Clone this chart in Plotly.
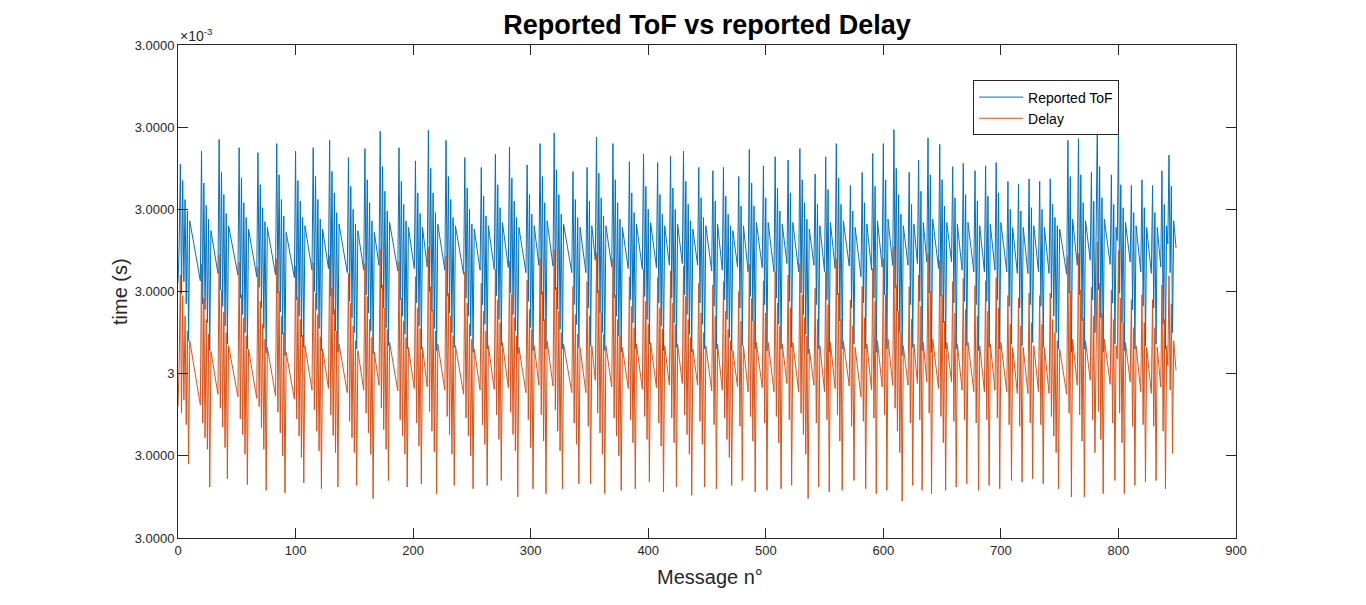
import plotly.graph_objects as go

# y values are offsets from 3e-3 s, expressed in y-tick steps (tick "3" = 0)
tof = [
 1.10, 1.55,
 2.55, 0.97, 2.35, 1.12, 2.12, 0.85, 1.98, 0.40, 1.86, 1.78, 1.70, 1.62, 1.55, 1.46, 1.38, 1.30, 1.21, 1.13,
 2.71, 0.85, 2.32, 0.78, 2.05, 0.62, 1.88, 0.28, 1.74, 1.65, 1.57, 1.48, 1.40, 1.31, 1.22,
 2.85, 1.02, 2.45, 0.82, 2.18, 0.58, 1.95, 0.36, 1.80, 1.73, 1.66, 1.58, 1.50, 1.43, 1.35, 1.28, 1.20,
 2.75, 0.92, 2.38, 0.72, 2.08, 0.50, 1.90, 0.30, 1.76, 1.68, 1.60, 1.51, 1.43, 1.35, 1.26, 1.18,
 2.69, 1.05, 2.30, 0.80, 2.02, 0.55, 1.85, 0.25, 1.78, 1.70, 1.61, 1.53, 1.45, 1.37, 1.29, 1.20,
 2.80, 0.98, 2.42, 0.75, 2.12, 0.48, 1.92, 0.22, 1.72, 1.64, 1.57, 1.49, 1.41, 1.33, 1.25, 1.17,
 2.71, 0.90, 2.35, 0.70, 2.10, 0.45, 1.90, 0.32, 1.80, 1.71, 1.62, 1.53, 1.44, 1.35, 1.26,
 2.75, 1.00, 2.40, 0.78, 2.12, 0.55, 1.88, 0.28, 1.76, 1.66, 1.57, 1.47, 1.38, 1.28,
 2.84, 0.94, 2.46, 0.72, 2.20, 0.52, 1.96, 0.26, 1.82, 1.74, 1.66, 1.57, 1.49, 1.40, 1.32, 1.23,
 2.63, 0.88, 2.28, 0.68, 2.00, 0.50, 1.82, 0.30, 1.74, 1.64, 1.55, 1.45, 1.36, 1.26,
 2.74, 0.96, 2.36, 0.74, 2.08, 0.52, 1.86, 0.24, 1.72, 1.62, 1.52, 1.42, 1.32,
 2.95, 1.04, 2.52, 0.80, 2.22, 0.56, 1.98, 0.34, 1.84, 1.76, 1.67, 1.59, 1.50, 1.42, 1.33, 1.25,
 2.75, 0.90, 2.34, 0.70, 2.06, 0.48, 1.86, 0.30, 1.78, 1.68, 1.58, 1.48, 1.38, 1.28,
 2.59, 0.86, 2.20, 0.58, 1.95, 0.30, 1.78, 1.66, 1.54, 1.42, 1.30,
 2.96, 1.00, 2.50, 0.76, 2.20, 0.55, 1.96, 0.28, 1.82, 1.72, 1.63, 1.54, 1.44, 1.35, 1.26,
 2.84, 0.94, 2.40, 0.74, 2.12, 0.50, 1.90, 0.32, 1.80, 1.72, 1.63, 1.55, 1.46, 1.38, 1.29, 1.21,
 2.63, 0.92, 2.26, 0.70, 2.00, 0.46, 1.82, 0.26, 1.76, 1.66, 1.56, 1.46, 1.36, 1.26,
 2.51, 0.84, 2.16, 0.60, 1.92, 0.30, 1.80, 1.70, 1.59, 1.48, 1.38, 1.27,
 2.67, 0.95, 2.30, 0.66, 2.02, 0.34, 1.84, 1.73, 1.62, 1.51, 1.40, 1.29,
 2.76, 0.98, 2.38, 0.72, 2.10, 0.52, 1.90, 0.24, 1.78, 1.69, 1.60, 1.50, 1.41, 1.32, 1.23,
 2.54, 0.88, 2.18, 0.56, 1.94, 0.28, 1.80, 1.68, 1.56, 1.44, 1.32,
 2.80, 0.96, 2.40, 0.64, 2.08, 0.30, 1.86, 1.75, 1.64, 1.53, 1.42, 1.31,
 2.93, 1.02, 2.48, 0.78, 2.18, 0.54, 1.94, 0.30, 1.82, 1.74, 1.65, 1.57, 1.48, 1.40, 1.31, 1.23,
 2.46, 0.84, 2.12, 0.60, 1.90, 0.32, 1.78, 1.67, 1.56, 1.45, 1.34, 1.23,
 2.51, 0.80, 2.10, 0.34, 1.80, 1.66, 1.52, 1.38,
 2.88, 0.98, 2.44, 0.74, 2.14, 0.50, 1.92, 0.28, 1.80, 1.70, 1.60, 1.50, 1.40, 1.30,
 2.80, 0.92, 2.36, 0.70, 2.08, 0.46, 1.88, 0.26, 1.78, 1.68, 1.58, 1.48, 1.38, 1.28,
 2.58, 0.90, 2.20, 0.62, 1.96, 0.30, 1.82, 1.71, 1.60, 1.49, 1.38, 1.27,
 2.67, 0.94, 2.28, 0.66, 2.00, 0.36, 1.84, 1.73, 1.62, 1.51, 1.40, 1.29,
 2.57, 0.86, 2.18, 0.58, 1.94, 0.28, 1.80, 1.68, 1.56, 1.44, 1.32,
 2.65, 0.92, 2.26, 0.62, 2.00, 0.32, 1.82, 1.70, 1.58, 1.46, 1.34,
 2.71, 0.96, 2.34, 0.72, 2.06, 0.48, 1.86, 0.26, 1.76, 1.65, 1.54, 1.43, 1.32,
 2.51, 0.86, 2.14, 0.60, 1.90, 0.30, 1.80, 1.69, 1.58, 1.47, 1.36, 1.25,
 2.47, 0.82, 2.10, 0.30, 1.82, 1.68, 1.54, 1.40, 1.26,
 2.51, 0.90, 2.16, 0.66, 1.94, 0.44, 1.80, 0.28, 1.74, 1.63, 1.52, 1.41, 1.30,
 2.40, 0.80, 2.04, 0.34, 1.80, 1.66, 1.52, 1.38, 1.24,
 2.73, 0.94, 2.32, 0.64, 2.04, 0.30, 1.84, 1.73, 1.62, 1.51, 1.40, 1.29,
 2.53, 0.84, 2.14, 0.28, 1.84, 1.72, 1.60, 1.48, 1.36, 1.24,
 2.64, 0.92, 2.26, 0.60, 1.98, 0.30, 1.82, 1.70, 1.58, 1.46, 1.34,
 2.60, 0.88, 2.20, 0.32, 1.84, 1.72, 1.60, 1.48, 1.36, 1.24,
 2.74, 0.98, 2.36, 0.72, 2.08, 0.48, 1.88, 0.24, 1.76, 1.65, 1.54, 1.43, 1.32,
 2.43, 0.84, 2.06, 0.30, 1.80, 1.66, 1.52, 1.38, 1.24,
 2.64, 0.90, 2.24, 0.26, 1.84, 1.70, 1.56, 1.42, 1.28,
 2.80, 0.96, 2.38, 0.64, 2.06, 0.30, 1.86, 1.75, 1.64, 1.53, 1.42, 1.31,
 2.29, 0.80, 1.98, 0.36, 1.78, 1.66, 1.54, 1.42, 1.30, 1.18,
 2.45, 0.86, 2.08, 0.30, 1.82, 1.68, 1.54, 1.40, 1.26,
 2.68, 0.92, 2.28, 0.26, 1.86, 1.72, 1.58, 1.44, 1.30,
 2.80, 0.96, 2.36, 0.30, 1.88, 1.74, 1.60, 1.46, 1.32,
 2.97, 1.04, 2.50, 0.76, 2.18, 0.50, 1.94, 0.22, 1.80, 1.68, 1.56, 1.44, 1.32,
 2.45, 0.84, 2.06, 0.32, 1.82, 1.66, 1.50, 1.34,
 2.60, 0.88, 2.22, 0.28, 1.84, 1.68, 1.52, 1.36,
 2.87, 0.98, 2.42, 0.26, 1.88, 1.76, 1.64, 1.52, 1.40, 1.28,
 2.79, 0.94, 2.36, 0.62, 2.04, 0.30, 1.84, 1.72, 1.60, 1.48, 1.36,
 2.52, 0.86, 2.14, 0.30, 1.82, 1.68, 1.54, 1.40, 1.26,
 2.56, 0.88, 2.18, 0.34, 1.84, 1.72, 1.60, 1.48, 1.36, 1.24,
 2.47, 0.84, 2.10, 0.28, 1.80, 1.66, 1.52, 1.38, 1.24,
 2.53, 0.88, 2.16, 0.32, 1.82, 1.68, 1.54, 1.40, 1.26,
 2.57, 0.90, 2.20, 0.30, 1.84, 1.72, 1.60, 1.48, 1.36, 1.24,
 2.34, 0.82, 2.00, 0.36, 1.78, 1.64, 1.50, 1.36, 1.22,
 2.31, 0.80, 1.98, 0.34, 1.78, 1.64, 1.50, 1.36, 1.22,
 2.37, 0.84, 2.02, 0.38, 1.80, 1.66, 1.52, 1.38, 1.24,
 2.34, 0.82, 2.00, 0.32, 1.78, 1.64, 1.50, 1.36, 1.22,
 2.37, 0.92, 2.06, 0.70, 1.90, 0.50, 1.80, 0.30, 1.76, 1.67, 1.58, 1.48, 1.39, 1.30, 1.21,
 2.84, 0.98, 2.40, 0.26, 1.88, 1.74, 1.60, 1.46, 1.32,
 2.86, 0.96, 2.42, 0.64, 2.08, 0.30, 1.86, 1.74, 1.62, 1.50, 1.38,
 2.45, 0.90, 2.10, 0.50, 1.70,
 3.02, 1.02, 2.52, 0.68, 2.14, 0.26, 1.88, 1.77, 1.66, 1.55, 1.44, 1.33,
 2.42, 0.86, 2.06, 0.36, 1.78, 1.62,
 2.90, 0.98, 2.30, 0.62, 2.02, 0.28, 1.84, 1.72, 1.60, 1.48, 1.36,
 2.29, 0.78, 1.96, 0.30, 1.80, 1.66, 1.52, 1.38, 1.24,
 2.36, 0.82, 2.02, 0.34, 1.78, 1.64, 1.50, 1.36, 1.22,
 2.29, 0.80, 1.96, 0.36, 1.78, 1.62, 1.46, 1.30,
 2.47, 0.60, 2.06, 0.30, 1.80, 1.58,
 2.66, 1.23, 2.28, 0.50, 1.86, 1.70, 1.53,
]

delay = [
 -0.40, 0.10,
 1.20, -0.48, 0.95, -0.32, 0.70, -0.62, 0.52, -1.10, 0.40, 0.31, 0.22, 0.14, 0.06, -0.03, -0.12, -0.20, -0.29, -0.38,
 1.33, -0.60, 0.92, -0.78, 0.66, -0.92, 0.48, -1.38, 0.27, 0.18, 0.10, 0.01, -0.08, -0.16, -0.25,
 1.45, -0.42, 1.02, -0.65, 0.75, -0.90, 0.50, -1.28, 0.34, 0.26, 0.19, 0.11, 0.03, -0.05, -0.13, -0.21, -0.28,
 1.36, -0.55, 0.96, -0.74, 0.68, -0.98, 0.46, -1.35, 0.30, 0.21, 0.13, 0.05, -0.04, -0.12, -0.21, -0.30,
 1.30, -0.40, 0.88, -0.66, 0.60, -0.92, 0.42, -1.42, 0.32, 0.24, 0.15, 0.07, -0.02, -0.10, -0.18, -0.27,
 1.40, -0.47, 1.00, -0.72, 0.70, -1.00, 0.50, -1.45, 0.26, 0.18, 0.10, 0.02, -0.06, -0.14, -0.22, -0.31,
 1.31, -0.55, 0.93, -0.76, 0.66, -1.02, 0.47, -1.33, 0.34, 0.25, 0.16, 0.07, -0.02, -0.11, -0.20,
 1.35, -0.44, 0.98, -0.70, 0.72, -0.94, 0.45, -1.40, 0.30, 0.20, 0.11, 0.01, -0.08, -0.18,
 1.44, -0.50, 1.04, -0.75, 0.78, -0.96, 0.52, -1.38, 0.36, 0.28, 0.20, 0.11, 0.03, -0.06, -0.14, -0.23,
 1.22, -0.58, 0.86, -0.78, 0.58, -0.96, 0.40, -1.36, 0.28, 0.18, 0.09, -0.01, -0.10, -0.20,
 1.34, -0.48, 0.94, -0.72, 0.66, -0.98, 0.44, -1.52, 0.26, 0.16, 0.06, -0.04, -0.14,
 1.52, -0.42, 1.08, -0.68, 0.80, -0.92, 0.54, -1.30, 0.38, 0.30, 0.21, 0.13, 0.04, -0.04, -0.13, -0.21,
 1.36, -0.56, 0.92, -0.76, 0.64, -0.98, 0.44, -1.38, 0.32, 0.22, 0.12, 0.02, -0.08, -0.18,
 1.18, -0.60, 0.80, -0.88, 0.55, -1.34, 0.32, 0.20, 0.08, -0.04, -0.16,
 1.54, -0.46, 1.06, -0.70, 0.78, -0.95, 0.52, -1.46, 0.36, 0.26, 0.17, 0.08, -0.02, -0.11, -0.20,
 1.43, -0.52, 0.98, -0.74, 0.70, -0.98, 0.46, -1.36, 0.34, 0.26, 0.17, 0.09, 0.00, -0.08, -0.17, -0.25,
 1.24, -0.54, 0.86, -0.76, 0.60, -1.00, 0.42, -1.40, 0.30, 0.20, 0.10, 0.00, -0.10, -0.20,
 1.10, -0.62, 0.76, -0.86, 0.52, -1.36, 0.34, 0.24, 0.13, 0.02, -0.08, -0.19,
 1.27, -0.50, 0.90, -0.80, 0.62, -1.30, 0.38, 0.27, 0.16, 0.05, -0.06, -0.17,
 1.37, -0.47, 0.97, -0.74, 0.68, -0.94, 0.46, -1.50, 0.32, 0.23, 0.14, 0.04, -0.05, -0.14, -0.23,
 1.14, -0.56, 0.78, -0.90, 0.54, -1.40, 0.34, 0.22, 0.10, -0.02, -0.14,
 1.40, -0.50, 1.00, -0.82, 0.66, -1.46, 0.40, 0.29, 0.18, 0.07, -0.04, -0.15,
 1.51, -0.44, 1.05, -0.70, 0.76, -0.94, 0.50, -1.40, 0.36, 0.28, 0.19, 0.11, 0.02, -0.06, -0.15, -0.23,
 1.06, -0.60, 0.72, -0.86, 0.48, -1.34, 0.32, 0.21, 0.10, -0.01, -0.12, -0.23,
 1.12, -0.64, 0.70, -1.34, 0.34, 0.20, 0.06, -0.08,
 1.47, -0.48, 1.02, -0.72, 0.74, -0.98, 0.48, -1.46, 0.34, 0.24, 0.14, 0.04, -0.06, -0.16,
 1.40, -0.54, 0.96, -0.76, 0.66, -1.00, 0.46, -1.42, 0.32, 0.22, 0.12, 0.02, -0.08, -0.18,
 1.18, -0.56, 0.82, -0.84, 0.56, -1.40, 0.36, 0.25, 0.14, 0.03, -0.08, -0.19,
 1.27, -0.52, 0.88, -0.80, 0.60, -1.32, 0.38, 0.27, 0.16, 0.05, -0.06, -0.17,
 1.17, -0.60, 0.80, -0.88, 0.54, -1.44, 0.34, 0.22, 0.10, -0.02, -0.14,
 1.25, -0.54, 0.86, -0.84, 0.60, -1.38, 0.36, 0.24, 0.12, 0.00, -0.12,
 1.31, -0.50, 0.94, -0.74, 0.66, -0.98, 0.44, -1.48, 0.30, 0.19, 0.08, -0.03, -0.14,
 1.10, -0.58, 0.74, -0.86, 0.50, -1.38, 0.34, 0.23, 0.12, 0.01, -0.10, -0.21,
 1.08, -0.62, 0.70, -1.40, 0.36, 0.22, 0.08, -0.06, -0.20,
 1.12, -0.54, 0.76, -0.80, 0.54, -1.02, 0.40, -1.36, 0.28, 0.17, 0.06, -0.05, -0.16,
 1.00, -0.64, 0.64, -1.30, 0.34, 0.20, 0.06, -0.08, -0.22,
 1.33, -0.52, 0.92, -0.82, 0.64, -1.44, 0.38, 0.27, 0.16, 0.05, -0.06, -0.17,
 1.13, -0.60, 0.74, -1.42, 0.38, 0.26, 0.14, 0.02, -0.10, -0.22,
 1.24, -0.52, 0.86, -0.84, 0.58, -1.40, 0.36, 0.24, 0.12, 0.00, -0.12,
 1.20, -0.56, 0.80, -1.36, 0.38, 0.26, 0.14, 0.02, -0.10, -0.22,
 1.34, -0.48, 0.96, -0.74, 0.68, -0.98, 0.46, -1.52, 0.30, 0.19, 0.08, -0.03, -0.14,
 1.04, -0.60, 0.66, -1.38, 0.34, 0.20, 0.06, -0.08, -0.22,
 1.24, -0.56, 0.84, -1.44, 0.38, 0.24, 0.10, -0.04, -0.18,
 1.40, -0.50, 0.98, -0.82, 0.66, -1.42, 0.40, 0.29, 0.18, 0.07, -0.04, -0.15,
 0.90, -0.64, 0.58, -1.30, 0.32, 0.20, 0.08, -0.04, -0.16, -0.28,
 1.06, -0.58, 0.68, -1.40, 0.36, 0.22, 0.08, -0.06, -0.20,
 1.28, -0.54, 0.88, -1.46, 0.40, 0.26, 0.12, -0.02, -0.16,
 1.40, -0.50, 0.96, -1.42, 0.42, 0.28, 0.14, 0.00, -0.14,
 1.55, -0.42, 1.08, -0.70, 0.76, -0.96, 0.50, -1.55, 0.34, 0.22, 0.10, -0.02, -0.14,
 1.06, -0.60, 0.66, -1.36, 0.36, 0.20, 0.04, -0.12,
 1.20, -0.56, 0.82, -1.42, 0.38, 0.22, 0.06, -0.10,
 1.46, -0.48, 1.00, -1.46, 0.42, 0.30, 0.18, 0.06, -0.06, -0.18,
 1.38, -0.52, 0.96, -0.84, 0.64, -1.42, 0.38, 0.26, 0.14, 0.02, -0.10,
 1.12, -0.58, 0.74, -1.38, 0.36, 0.22, 0.08, -0.06, -0.20,
 1.16, -0.56, 0.78, -1.34, 0.38, 0.26, 0.14, 0.02, -0.10, -0.22,
 1.07, -0.60, 0.70, -1.42, 0.34, 0.20, 0.06, -0.08, -0.22,
 1.13, -0.56, 0.76, -1.36, 0.36, 0.22, 0.08, -0.06, -0.20,
 1.17, -0.54, 0.80, -1.40, 0.38, 0.26, 0.14, 0.02, -0.10, -0.22,
 0.95, -0.62, 0.60, -1.30, 0.32, 0.18, 0.04, -0.10, -0.24,
 0.92, -0.64, 0.58, -1.32, 0.32, 0.18, 0.04, -0.10, -0.24,
 0.98, -0.60, 0.62, -1.28, 0.34, 0.20, 0.06, -0.08, -0.22,
 0.95, -0.62, 0.60, -1.34, 0.32, 0.18, 0.04, -0.10, -0.24,
 0.98, -0.52, 0.66, -0.76, 0.50, -0.96, 0.40, -1.40, 0.30, 0.21, 0.12, 0.02, -0.07, -0.16, -0.25,
 1.44, -0.48, 1.00, -1.50, 0.42, 0.28, 0.14, 0.00, -0.14,
 1.46, -0.50, 1.02, -0.82, 0.68, -1.50, 0.40, 0.28, 0.16, 0.04, -0.08,
 1.05, -0.56, 0.70, -0.96, 0.26,
 1.60, -0.46, 1.10, -0.80, 0.74, -1.46, 0.42, 0.31, 0.20, 0.09, -0.02, -0.13,
 1.02, -0.60, 0.66, -1.30, 0.34, 0.18,
 1.50, -0.48, 0.92, -0.84, 0.62, -1.46, 0.38, 0.26, 0.14, 0.02, -0.10,
 0.90, -0.64, 0.56, -1.36, 0.34, 0.20, 0.06, -0.08, -0.22,
 0.96, -0.62, 0.62, -1.32, 0.32, 0.18, 0.04, -0.10, -0.24,
 0.90, -0.64, 0.56, -1.30, 0.32, 0.16, 0.00, -0.16,
 1.08, -0.70, 0.66, -1.40, 0.34, 0.10,
 1.19, -0.20, 0.85, -0.97, 0.40, 0.20, 0.04,
]

series_names = ["Reported ToF", "Delay"]
series_colors = ["#0072BD", "#D95319"]

x_ticks = [0, 100, 200, 300, 400, 500, 600, 700, 800, 900]
y_tick_vals = [-2, -1, 0, 1, 2, 3, 4]
y_tick_text = ["3.0000", "3.0000", "3", "3.0000", "3.0000", "3.0000", "3.0000"]

FONT = "Liberation Sans, Arial, sans-serif"
AX = "#262626"

fig = go.Figure()
for name, ys, col in zip(series_names, [tof, delay], series_colors):
    fig.add_trace(go.Scatter(x=list(range(len(ys))), y=ys, mode="lines", name=name,
                             line=dict(color=col, width=1)))

axis_common = dict(showline=True, linecolor=AX, linewidth=1, mirror="ticks",
                   ticks="inside", ticklen=10, tickcolor=AX, tickwidth=1,
                   showgrid=False, zeroline=False,
                   tickfont=dict(family=FONT, size=13, color=AX))

fig.update_layout(
    width=1366, height=605,
    margin=dict(l=178, r=130, t=45, b=67),
    paper_bgcolor="white", plot_bgcolor="white",
    font=dict(family=FONT, color=AX),
    title=dict(text="<b>Reported ToF vs reported Delay</b>", x=0.5, xref="paper",
               y=1 - 25 / 605, yref="container", xanchor="center", yanchor="middle",
               font=dict(family=FONT, size=27, color="#000000")),
    xaxis=dict(range=[0, 900], tickvals=x_ticks, **axis_common),
    yaxis=dict(range=[-2, 4], tickvals=y_tick_vals, ticktext=y_tick_text, **axis_common),
    legend=dict(x=0.7515, y=0.928, xanchor="left", yanchor="top",
                bgcolor="white", bordercolor=AX, borderwidth=1,
                font=dict(family=FONT, size=14, color="#000000"),
                itemwidth=44, tracegroupgap=0),
    showlegend=True,
)

fig.add_annotation(text="Message n°", x=0.503, y=-0.079, xref="paper", yref="paper",
                   showarrow=False, xanchor="center", yanchor="middle",
                   font=dict(family=FONT, size=20, color=AX))
fig.add_annotation(text="time (s)", x=-0.0548, y=0.499, xref="paper", yref="paper",
                   showarrow=False, textangle=-90, xanchor="center", yanchor="middle",
                   font=dict(family=FONT, size=20, color=AX))
fig.add_annotation(text="×10<sup>-3</sup>", x=0, y=1, xref="paper", yref="paper",
                   showarrow=False, xanchor="left", yanchor="bottom", yshift=-1,
                   font=dict(family=FONT, size=14, color=AX))

fig.write_html("out.html")
